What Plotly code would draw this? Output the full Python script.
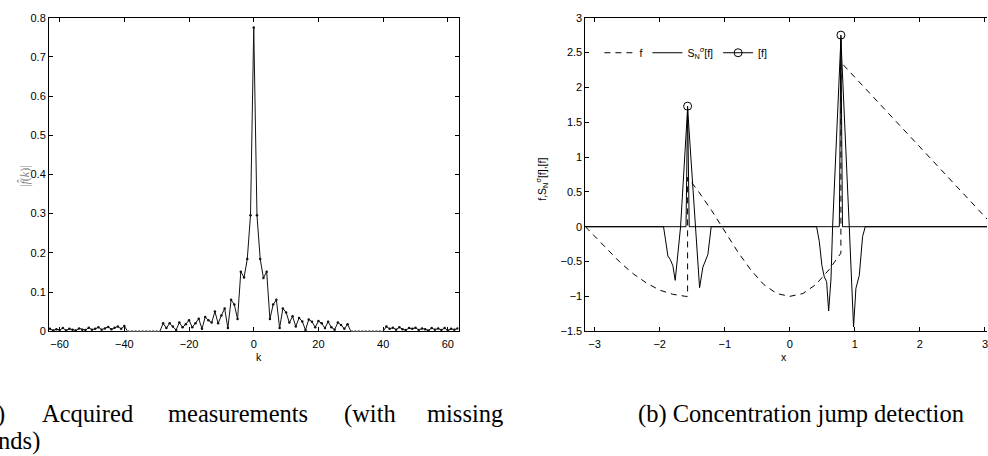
import plotly.graph_objects as go

W, H = 988, 456

# ---------------- data: left panel (|f^(k)|) ----------------
k_left_far = list(range(-63, -39))          # -63 .. -40
v_left_far = [0.006, 0.002, 0.005, 0.003, 0.008, 0.002, 0.006, 0.004, 0.002, 0.007,
              0.004, 0.003, 0.009, 0.004, 0.006, 0.010, 0.004, 0.007, 0.011, 0.005,
              0.009, 0.012, 0.006, 0.013]
k_gap_left = list(range(-39, -28))          # missing band
k_center = list(range(-28, 30))             # -28 .. 29
v_center = [0.020, 0.008, 0.020, 0.012, 0.003, 0.022, 0.010, 0.018, 0.028, 0.010,
            0.020, 0.032, 0.006, 0.036, 0.028, 0.022, 0.050, 0.020, 0.040, 0.058,
            0.008, 0.080, 0.068, 0.031, 0.152, 0.137, 0.184, 0.296,
            0.775,
            0.296, 0.184, 0.136, 0.152, 0.031, 0.068, 0.080, 0.008, 0.058, 0.048,
            0.022, 0.038, 0.012, 0.034, 0.025, 0.003, 0.030, 0.024, 0.010, 0.026,
            0.020, 0.008, 0.024, 0.010, 0.004, 0.022, 0.016, 0.006, 0.018]
k_gap_right = list(range(30, 41))           # missing band
k_right_far = list(range(41, 64))           # 41 .. 63
v_right_far = [0.012, 0.006, 0.009, 0.004, 0.010, 0.005, 0.003, 0.008, 0.006, 0.009,
               0.003, 0.007, 0.005, 0.002, 0.008, 0.004, 0.007, 0.003, 0.008, 0.002,
               0.006, 0.004, 0.007]

# ---------------- data: right panel ----------------
x_f = [-3.1416, -3.0, -2.8, -2.6, -2.4, -2.2, -2.0, -1.8, -1.6, -1.5708,
       -1.5708, -1.4, -1.2, -1.0, -0.8, -0.6, -0.4, -0.2, 0.0, 0.2, 0.4, 0.6, 0.7854,
       0.7854, 1.5, 2.2, 3.1416]
y_f = [0.0, -0.14, -0.33, -0.52, -0.68, -0.81, -0.91, -0.97, -1.0, -1.0,
       0.71, 0.50, 0.23, -0.07, -0.36, -0.62, -0.83, -0.96, -1.0, -0.96, -0.83, -0.62, -0.38,
       2.36, 1.64, 0.94, 0.0]

x_S = [-3.1416, -1.941, -1.910, -1.874, -1.838, -1.797, -1.761, -1.720, -1.679,
       -1.5708, -1.449, -1.387, -1.336, -1.295, -1.259, -1.208,
       0.412, 0.453, 0.494, 0.530, 0.566, 0.597, 0.633, 0.658,
       0.7854, 0.914, 0.955, 0.980, 1.016, 1.042, 1.068, 1.119, 1.160, 3.1416]
y_S = [0.0, 0.0, -0.19, -0.42, -0.47, -0.56, -0.77, -0.40, 0.0,
       1.70, 0.0, -0.876, -0.58, -0.49, -0.40, 0.0,
       0.0, -0.21, -0.56, -0.72, -0.79, -1.21, -0.75, 0.0,
       2.70, 0.0, -1.0, -1.44, -0.885, -0.77, -0.70, -0.14, 0.0, 0.0]

x_J = [-3.1416, -1.595, -1.5708, -1.546, 0.761, 0.7854, 0.810, 3.1416]
y_J = [0.0, 0.0, 1.73, 0.0, 0.0, 2.75, 0.0, 0.0]
x_Jpk = [-1.5708, 0.7854]
y_Jpk = [1.73, 2.75]

# ---------------- layout helpers ----------------
def px(x):
    return x / W

def py(y):
    return 1 - y / H

BLACK = "#000000"
SANS = "Liberation Sans, Arial, sans-serif"
SERIF = "Liberation Serif, Times New Roman, serif"
TICKFONT = dict(family=SANS, size=11, color=BLACK)

fig = go.Figure()

# left panel traces
line_k = dict(color="#111111", width=1)
mark_k = dict(size=2.5, color="#111111")
fig.add_trace(go.Scatter(x=k_left_far, y=v_left_far, mode="lines+markers", line=line_k, marker=mark_k,
                         xaxis="x", yaxis="y", showlegend=False))
fig.add_trace(go.Scatter(x=[k_left_far[-1], k_gap_left[0]], y=[v_left_far[-1], 0.0], mode="lines",
                         line=line_k, xaxis="x", yaxis="y", showlegend=False))
fig.add_trace(go.Scatter(x=[k_gap_left[-1], k_center[0]], y=[0.0, v_center[0]], mode="lines",
                         line=line_k, xaxis="x", yaxis="y", showlegend=False))
fig.add_trace(go.Scatter(x=k_center, y=v_center, mode="lines+markers", line=line_k, marker=mark_k,
                         xaxis="x", yaxis="y", showlegend=False))
fig.add_trace(go.Scatter(x=[k_center[-1], k_gap_right[0]], y=[v_center[-1], 0.0], mode="lines",
                         line=line_k, xaxis="x", yaxis="y", showlegend=False))
fig.add_trace(go.Scatter(x=[k_gap_right[-1], k_right_far[0]], y=[0.0, v_right_far[0]], mode="lines",
                         line=line_k, xaxis="x", yaxis="y", showlegend=False))
fig.add_trace(go.Scatter(x=k_right_far, y=v_right_far, mode="lines+markers", line=line_k, marker=mark_k,
                         xaxis="x", yaxis="y", showlegend=False))
# missing bands: white over the axis line, then grey dotted
for gap in (k_gap_left, k_gap_right):
    fig.add_trace(go.Scatter(x=gap, y=[0.0] * len(gap), mode="lines",
                             line=dict(color="white", width=2.5),
                             xaxis="x", yaxis="y", showlegend=False, cliponaxis=False))
    fig.add_trace(go.Scatter(x=gap, y=[0.0] * len(gap), mode="lines",
                             line=dict(color="#8a8a8a", width=2.5, dash="2px,1.5px"),
                             xaxis="x", yaxis="y", showlegend=False, cliponaxis=False))

# right panel traces
fig.add_trace(go.Scatter(x=x_f, y=y_f, mode="lines", name="f",
                         line=dict(color=BLACK, width=1, dash="6px,5px"),
                         xaxis="x2", yaxis="y2", showlegend=True))
fig.add_trace(go.Scatter(x=x_S, y=y_S, mode="lines", name="S<sub>N</sub><sup>σ</sup>[f]",
                         line=dict(color=BLACK, width=1),
                         xaxis="x2", yaxis="y2", showlegend=True))
fig.add_trace(go.Scatter(x=x_J, y=y_J, mode="lines",
                         line=dict(color=BLACK, width=1),
                         xaxis="x2", yaxis="y2", showlegend=False))
fig.add_trace(go.Scatter(x=x_Jpk, y=y_Jpk, mode="markers",
                         marker=dict(symbol="circle-open", size=8, color=BLACK, line=dict(width=1)),
                         xaxis="x2", yaxis="y2", showlegend=False))
fig.add_trace(go.Scatter(x=[None], y=[None], mode="lines+markers", name="[f]",
                         line=dict(color=BLACK, width=1),
                         marker=dict(symbol="circle-open", size=8, color=BLACK, line=dict(width=1)),
                         xaxis="x2", yaxis="y2", showlegend=True))

axis_common = dict(showline=True, linecolor=BLACK, linewidth=1, ticks="inside", ticklen=4,
                   tickcolor=BLACK, tickwidth=1, showgrid=False, zeroline=False,
                   tickfont=TICKFONT)

fig.update_layout(
    width=W, height=H, margin=dict(l=0, r=0, t=0, b=0),
    paper_bgcolor="white", plot_bgcolor="white",
    xaxis=dict(domain=[px(49), px(459)], range=[-63.3, 63.3], tickvals=[-60, -40, -20, 0, 20, 40, 60],
               ticktext=["−60", "−40", "−20", "0", "20", "40", "60"],
               mirror="ticks", anchor="y", layer="below traces", ticklabelstandoff=3, **axis_common),
    yaxis=dict(domain=[py(334), py(12)], range=[0, 0.8], tickvals=[0, 0.1, 0.2, 0.3, 0.4, 0.5, 0.6, 0.7, 0.8],
               ticktext=["0", "0.1", "0.2", "0.3", "0.4", "0.5", "0.6", "0.7", "0.8"],
               mirror="ticks", anchor="x", **axis_common),
    xaxis2=dict(domain=[px(586), 1.0], range=[-3.1416, 3.031], tickvals=[-3, -2, -1, 0, 1, 2, 3],
                ticktext=["−3", "−2", "−1", "0", "1", "2", "3"], ticklabeloverflow="allow",
                mirror="ticks", anchor="y2", ticklabelstandoff=3, **axis_common),
    yaxis2=dict(domain=[py(334), py(12)], range=[-1.5, 3],
                tickvals=[-1.5, -1, -0.5, 0, 0.5, 1, 1.5, 2, 2.5, 3],
                ticktext=["−1.5", "−1", "−0.5", "0", "0.5", "1", "1.5", "2", "2.5", "3"],
                mirror=False, anchor="x2", **axis_common),
    legend=dict(orientation="h", x=px(600), y=py(48), xanchor="left", yanchor="middle",
                bgcolor="rgba(0,0,0,0)", borderwidth=0,
                font=dict(family=SANS, size=10.5, color=BLACK),
                itemwidth=30, tracegroupgap=0),
)

ann = []
# axis titles
ann.append(dict(x=px(254), y=py(360), text="k", showarrow=False, xref="paper", yref="paper",
                yanchor="middle", font=dict(family=SANS, size=10.5, color=BLACK)))
ann.append(dict(x=px(790), y=py(360), text="x", showarrow=False, xref="paper", yref="paper",
                yanchor="middle", font=dict(family=SANS, size=10.5, color=BLACK)))
ann.append(dict(x=px(15), y=py(175), text="|<i>f̂</i>(<i>k</i>)|", textangle=-90, showarrow=False,
                xref="paper", yref="paper",
                font=dict(family=SERIF, size=12, color="#888888")))
ann.append(dict(x=px(543), y=py(178), text="f,S<sub>N</sub><sup>σ</sup>[f],[f]", textangle=-90,
                showarrow=False, xref="paper", yref="paper",
                font=dict(family=SANS, size=10.5, color=BLACK)))

# captions
CAP = dict(family=SERIF, size=24.5, color=BLACK)
cap_line1 = [("(a)", 7, "right"), ("Acquired", 40, "left"), ("measurements", 166, "left"),
             ("(with", 342, "left"), ("missing", 506, "right")]
for txt, xp, anc in cap_line1:
    ann.append(dict(x=px(xp), y=py(419), text=txt, showarrow=False, xref="paper", yref="paper",
                    xanchor=anc, yanchor="middle", font=CAP))
ann.append(dict(x=px(42), y=py(447), text="bands)", showarrow=False, xref="paper", yref="paper",
                xanchor="right", yanchor="middle", font=CAP))
ann.append(dict(x=px(637), y=py(419), text="(b) Concentration jump detection", showarrow=False,
                xref="paper", yref="paper", xanchor="left", yanchor="middle", font=CAP))
fig.update_layout(annotations=ann)

fig.write_html("out.html")
